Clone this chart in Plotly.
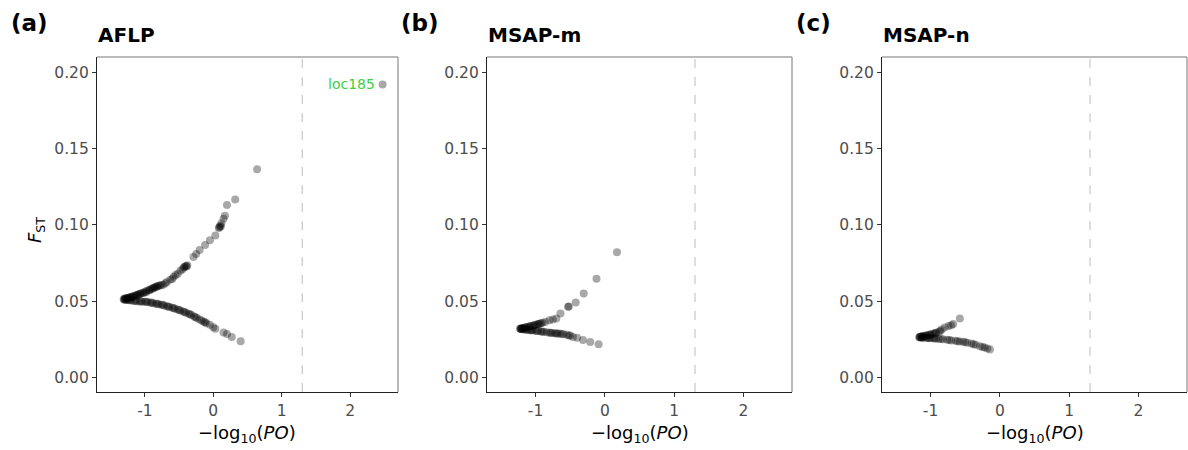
import plotly.graph_objects as go

# ---------------- data ----------------
panel_labels = ["(a)", "(b)", "(c)"]
panel_titles = ["AFLP", "MSAP-m", "MSAP-n"]
x_ticks = [-1, 0, 1, 2]
y_ticks = [0.00, 0.05, 0.10, 0.15, 0.20]
threshold = 1.301  # -log10(0.05)

aflp_x = [-1.30, -1.28, -1.26, -1.24, -1.22, -1.20, -1.18, -1.15, -1.12, -1.09, -1.06, -1.03,
          -1.00, -0.97, -0.94, -0.91, -0.88, -0.85, -0.82, -0.78, -0.73, -0.68, -0.63, -0.58,
          -0.55, -0.52, -0.45, -0.42, -0.40, -0.38, -0.29, -0.25, -0.20, -0.12, -0.05, 0.03,
          0.08, 0.10, 0.12, 0.15, 0.17, 0.20, 0.32, 0.64,
          -1.31, -1.29, -1.25, -1.21, -1.17, -1.13, -1.10, -1.07, -1.02, -0.98, -0.93, -0.89,
          -0.86, -0.83, -0.80, -0.76, -0.70, -0.60, -0.48, -0.43, -0.39, 0.09, 0.11,
          -1.30, -1.27, -1.24, -1.20, -1.16, -1.12, -1.08, -1.04, -1.00, -0.96, -0.92, -0.88,
          -0.84, -0.80, -0.76, -0.72, -0.68, -0.64, -0.60, -0.56, -0.52, -0.48, -0.44, -0.40,
          -0.36, -0.32, -0.28, -0.24, -0.20, -0.14, -0.10, -0.05, 0.00, 0.03, 0.15, 0.20,
          0.27, 0.40,
          -1.28, -1.22, -1.14, -1.06, -0.98, -0.90, -0.82, -0.74, -0.66, -0.58, -0.50, -0.42,
          -0.34, -0.26, -0.17, -0.12, 2.475]
aflp_y = [0.0515, 0.0520, 0.0518, 0.0523, 0.0525, 0.0528, 0.0530, 0.0535, 0.0540, 0.0545, 0.0550, 0.0556,
          0.0562, 0.0568, 0.0574, 0.0580, 0.0586, 0.0592, 0.0598, 0.0603, 0.0608, 0.0625, 0.0640, 0.0660,
          0.0672, 0.0680, 0.0710, 0.0725, 0.0730, 0.0735, 0.0790, 0.0810, 0.0835, 0.0868, 0.0900, 0.0930,
          0.0980, 0.0995, 0.1010, 0.1040, 0.1060, 0.1130, 0.1167, 0.1364,
          0.0513, 0.0517, 0.0521, 0.0526, 0.0531, 0.0537, 0.0542, 0.0548, 0.0553, 0.0558, 0.0571, 0.0582,
          0.0590, 0.0595, 0.0601, 0.0606, 0.0618, 0.0645, 0.0700, 0.0720, 0.0728, 0.0985, 0.0990,
          0.0510, 0.0508, 0.0506, 0.0504, 0.0502, 0.0500, 0.0498, 0.0497, 0.0496, 0.0494, 0.0490, 0.0487,
          0.0484, 0.0480, 0.0476, 0.0472, 0.0467, 0.0462, 0.0457, 0.0451, 0.0445, 0.0439, 0.0432, 0.0425,
          0.0418, 0.0410, 0.0400, 0.0390, 0.0380, 0.0365, 0.0355, 0.0345, 0.0330, 0.0320, 0.0295, 0.0285,
          0.0266, 0.0238,
          0.0511, 0.0507, 0.0503, 0.0499, 0.0496, 0.0491, 0.0484, 0.0476, 0.0466, 0.0455, 0.0443, 0.0429,
          0.0414, 0.0395, 0.0373, 0.0362, 0.192]

msapm_x = [-1.22, -1.20, -1.18, -1.15, -1.12, -1.09, -1.06, -1.03, -1.00, -0.97, -0.94, -0.90,
           -0.86, -0.80, -0.75, -0.70, -0.64, -0.53, -0.42, -0.305, -0.12, 0.175,
           -1.21, -1.17, -1.13, -1.08, -1.02, -0.96, -0.92, -0.52,
           -1.22, -1.19, -1.16, -1.13, -1.10, -1.07, -1.04, -1.00, -0.96, -0.92, -0.88, -0.84,
           -0.80, -0.76, -0.72, -0.68, -0.65, -0.60, -0.55, -0.50, -0.46, -0.40, -0.315, -0.21, -0.09,
           -1.20, -1.14, -1.06, -0.98, -0.90, -0.78, -0.70, -0.62, -0.52]
msapm_y = [0.0321, 0.0323, 0.0325, 0.0328, 0.0331, 0.0334, 0.0337, 0.0341, 0.0345, 0.0349, 0.0353, 0.0358,
           0.0364, 0.0375, 0.0380, 0.0386, 0.0420, 0.0463, 0.0492, 0.0551, 0.0647, 0.0820,
           0.0320, 0.0326, 0.0330, 0.0336, 0.0343, 0.0350, 0.0356, 0.0465,
           0.0318, 0.0316, 0.0315, 0.0313, 0.0312, 0.0310, 0.0309, 0.0307, 0.0305, 0.0302, 0.0299, 0.0297,
           0.0294, 0.0292, 0.0290, 0.0289, 0.0289, 0.0285, 0.0280, 0.0276, 0.0266, 0.0260, 0.0245, 0.0233, 0.0218,
           0.0317, 0.0314, 0.0309, 0.0304, 0.0300, 0.0293, 0.0288, 0.0284, 0.0275]

msapn_x = [-1.16, -1.14, -1.12, -1.10, -1.07, -1.04, -1.01, -0.98, -0.95, -0.92, -0.88, -0.84,
           -0.795, -0.74, -0.673, -0.577,
           -1.15, -1.11, -1.06, -1.00, -0.93, -0.86, -0.70,
           -1.16, -1.13, -1.10, -1.06, -1.02, -1.00, -0.96, -0.92, -0.88, -0.82, -0.76, -0.70,
           -0.64, -0.58, -0.53, -0.47, -0.41, -0.35, -0.287, -0.22, -0.143,
           -1.12, -1.04, -0.94, -0.85, -0.73, -0.61, -0.50, -0.38, -0.25, -0.18]
msapn_y = [0.0266, 0.0268, 0.0270, 0.0272, 0.0275, 0.0278, 0.0281, 0.0285, 0.0289, 0.0293, 0.0300, 0.0314,
           0.0328, 0.0338, 0.0350, 0.0387,
           0.0265, 0.0269, 0.0274, 0.0280, 0.0291, 0.0305, 0.0342,
           0.0262, 0.0261, 0.0260, 0.0260, 0.0259, 0.0258, 0.0257, 0.0255, 0.0253, 0.0251, 0.0247, 0.0243,
           0.0240, 0.0236, 0.0234, 0.0228, 0.0222, 0.0214, 0.0205, 0.0196, 0.0184,
           0.0262, 0.0259, 0.0256, 0.0252, 0.0245, 0.0238, 0.0231, 0.0218, 0.0200, 0.0190]

outlier_label = "loc185"
outlier_x = [2.475]
outlier_y = [0.192]

# ---------------- layout geometry ----------------
W, H = 1188, 450
x_domains = [[97 / W, 398 / W], [487 / W, 792 / W], [882 / W, 1187 / W]]
y_domain = [1 - 392 / H, 1 - 57 / H]
x_range = [-1.70, 2.70]
y_range = [-0.0095, 0.21]

series = [(aflp_x, aflp_y), (msapm_x, msapm_y), (msapn_x, msapn_y)]

fig = go.Figure()
FONT = "DejaVu Sans, Liberation Sans, Arial, sans-serif"

for i, (xs, ys) in enumerate(series):
    sfx = "" if i == 0 else str(i + 1)
    fig.add_trace(go.Scatter(
        x=xs, y=ys, mode="markers",
        marker=dict(size=8, color="rgba(0,0,0,0.34)", line=dict(width=0)),
        xaxis="x" + sfx, yaxis="y" + sfx, showlegend=False, hoverinfo="x+y"))
    axis_common = dict(
        showgrid=False, zeroline=False, showline=True, mirror=False,
        linecolor="#222222", linewidth=1.2, ticks="outside", ticklen=4,
        tickcolor="#333333", tickwidth=1, automargin=False,
        tickfont=dict(family=FONT, size=15.5, color="#4d4d4d"))
    fig.layout["xaxis" + sfx] = dict(
        axis_common, domain=x_domains[i], range=x_range,
        tickvals=x_ticks, ticktext=[str(t) for t in x_ticks],
        anchor="y" + sfx)
    fig.layout["yaxis" + sfx] = dict(
        axis_common, domain=y_domain, range=y_range,
        tickvals=y_ticks, ticktext=[f"{t:.2f}" for t in y_ticks],
        anchor="x" + sfx)
    # top and right frame lines (lighter)
    fig.add_shape(type="line", xref="paper", yref="paper",
                  x0=x_domains[i][0], x1=x_domains[i][1], y0=y_domain[1], y1=y_domain[1],
                  line=dict(color="#777777", width=1))
    fig.add_shape(type="line", xref="paper", yref="paper",
                  x0=x_domains[i][1], x1=x_domains[i][1], y0=y_domain[0], y1=y_domain[1],
                  line=dict(color="#777777", width=1))
    # dashed threshold line
    fig.add_shape(type="line", xref="x" + sfx, yref="paper",
                  x0=threshold, x1=threshold, y0=y_domain[0], y1=y_domain[1],
                  line=dict(color="#c8c8c8", width=1.2, dash="dash"))
    # panel letter
    fig.add_annotation(text="<b>" + panel_labels[i] + "</b>", xref="paper", yref="paper",
                       x=x_domains[i][0] - 88 / W, y=1 - 23 / H, xanchor="left", yanchor="middle",
                       showarrow=False, font=dict(family=FONT, size=23, color="black"))
    # panel title
    fig.add_annotation(text="<b>" + panel_titles[i] + "</b>", xref="paper", yref="paper",
                       x=x_domains[i][0] - 1 / W, y=1 - 35 / H, xanchor="left", yanchor="middle",
                       showarrow=False, font=dict(family=FONT, size=20, color="black"))
    # x axis title
    fig.add_annotation(text="\u2212log<sub>10</sub>(<i>PO</i>)", xref="paper", yref="paper",
                       x=(x_domains[i][0] + x_domains[i][1]) / 2, y=1 - 434 / H,
                       xanchor="center", yanchor="middle",
                       showarrow=False, font=dict(family=FONT, size=18, color="black"))

# y axis title (first panel only)
fig.add_annotation(text="<i>F</i><sub>ST</sub>", xref="paper", yref="paper",
                   x=36 / W, y=1 - 230 / H, xanchor="center", yanchor="middle",
                   textangle=-90, showarrow=False, font=dict(family=FONT, size=18, color="black"))

# outlier label
fig.add_annotation(text=outlier_label, xref="x", yref="y", x=outlier_x[0], y=outlier_y[0],
                   xanchor="right", yanchor="middle", xshift=-6, showarrow=False,
                   font=dict(family=FONT, size=14, color="#3dd13d"))

fig.update_layout(width=W, height=H, margin=dict(l=0, r=0, t=0, b=0, autoexpand=False),
                  paper_bgcolor="white", plot_bgcolor="white")

fig.write_html("out.html", config={"displayModeBar": False},
               post_script="document.body.style.margin='0px';document.body.style.overflow='hidden';")
